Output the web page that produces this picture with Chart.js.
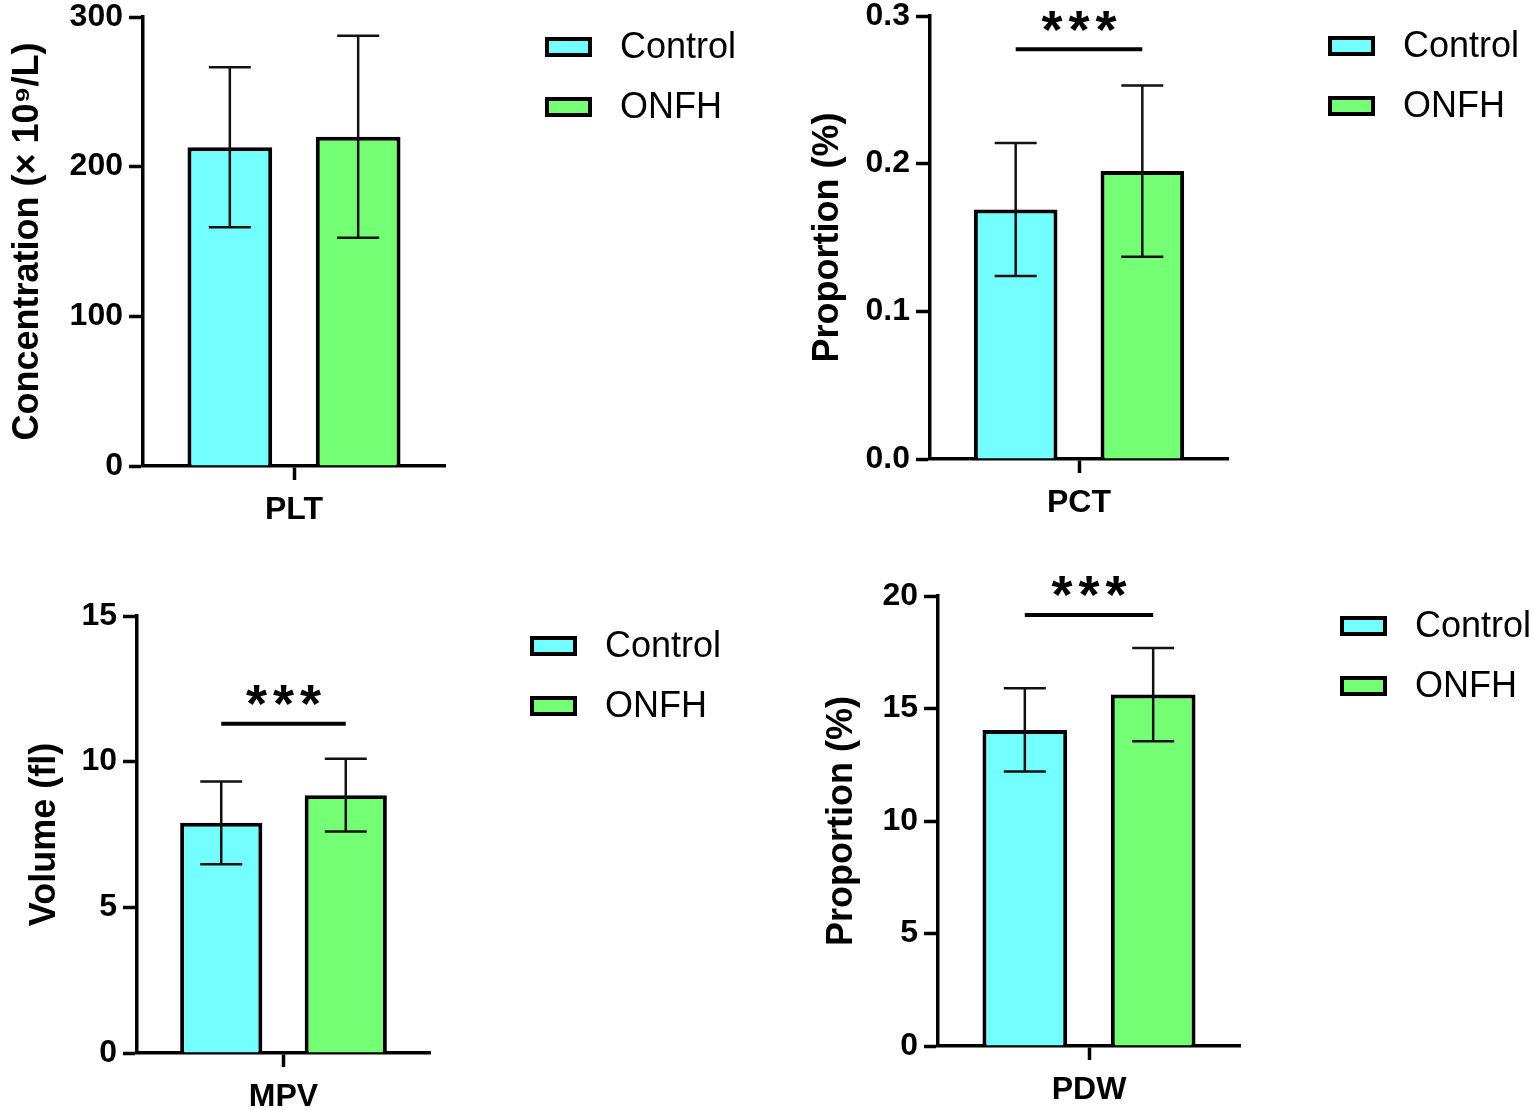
<!DOCTYPE html>
<html><head><meta charset="utf-8">
<script src="https://cdn.jsdelivr.net/npm/chart.js@4.4.1/dist/chart.umd.min.js"></script>
<style>
html,body{margin:0;padding:0;background:#fff;width:1534px;height:1110px;overflow:hidden;}
canvas{position:absolute;}
</style></head><body>
<canvas id="c1" width="780" height="545" style="left:0;top:0;width:780px;height:545px"></canvas>
<canvas id="c2" width="744" height="545" style="left:790px;top:0;width:744px;height:545px"></canvas>
<canvas id="c3" width="780" height="550" style="left:0;top:560px;width:780px;height:550px"></canvas>
<canvas id="c4" width="744" height="550" style="left:790px;top:560px;width:744px;height:550px"></canvas>
<script>
// ---- data ----
const groups = ['Control', 'ONFH'];
const groupColors = ['#73FFFF', '#74FF74'];

const pltLabel = ['PLT'];
const pltMean = [213, 220];
const pltSD = [53.5, 67.5];
const pltTicks = [0, 100, 200, 300];

const pctLabel = ['PCT'];
const pctMean = [0.169, 0.195];
const pctSD = [0.045, 0.058];
const pctTicks = [0, 0.1, 0.2, 0.3];
const pctSig = 0.2775;

const mpvLabel = ['MPV'];
const mpvMean = [7.9, 8.85];
const mpvSD = [1.42, 1.25];
const mpvTicks = [0, 5, 10, 15];
const mpvSig = 11.3;

const pdwLabel = ['PDW'];
const pdwMean = [14.05, 15.62];
const pdwSD = [1.85, 2.07];
const pdwTicks = [0, 5, 10, 15, 20];
const pdwSig = 19.16;

const sigText = '***';

// ---- rendering ----
const F = "'Liberation Sans', Arial, Helvetica, sans-serif";
Chart.defaults.font.family = F;
Chart.defaults.color = '#000';

const errorBars = {
  id: 'errorBars',
  afterDatasetsDraw(chart) {
    const ctx = chart.ctx, y = chart.scales.y;
    ctx.save();
    ctx.strokeStyle = '#111';
    ctx.lineWidth = 2.5;
    chart.data.datasets.forEach((ds, i) => {
      const el = chart.getDatasetMeta(i).data[0];
      const m = ds.data[0], sd = ds.sd[0];
      const yt = y.getPixelForValue(m + sd), yb = y.getPixelForValue(m - sd);
      const cw = 21;
      ctx.beginPath();
      ctx.moveTo(el.x, yt); ctx.lineTo(el.x, yb);
      ctx.moveTo(el.x - cw, yt); ctx.lineTo(el.x + cw, yt);
      ctx.moveTo(el.x - cw, yb); ctx.lineTo(el.x + cw, yb);
      ctx.stroke();
    });
    ctx.restore();
  }
};

const sigBracket = {
  id: 'sigBracket',
  afterDraw(chart, args, opts) {
    if (opts.value == null) return;
    const ctx = chart.ctx, y = chart.scales.y;
    const x0 = chart.getDatasetMeta(0).data[0].x;
    const x1 = chart.getDatasetMeta(1).data[0].x;
    const yy = y.getPixelForValue(opts.value);
    ctx.save();
    ctx.strokeStyle = '#000';
    ctx.lineWidth = 4;
    ctx.beginPath(); ctx.moveTo(x0, yy); ctx.lineTo(x1, yy); ctx.stroke();
    ctx.font = 'bold 54px ' + F;
    ctx.fillStyle = '#000';
    ctx.textAlign = 'center';
    ctx.textBaseline = 'alphabetic';
    const chars = opts.text.split('');
    const m = ctx.measureText(chars[0]);
    const target = yy - opts.gap;
    const by = target + (m.actualBoundingBoxAscent - m.actualBoundingBoxDescent) / 2;
    const cx = (x0 + x1) / 2;
    chars.forEach((c, k) => {
      ctx.fillText(c, cx + (k - (chars.length - 1) / 2) * opts.spacing, by);
    });
    ctx.restore();
  }
};

const sideLegend = {
  id: 'sideLegend',
  afterDraw(chart, args, opts) {
    const ctx = chart.ctx, a = chart.chartArea;
    ctx.save();
    chart.data.datasets.forEach((ds, i) => {
      const bx = a.right + opts.dx, cy = a.top + opts.dy + i * opts.gap;
      ctx.fillStyle = ds.backgroundColor;
      ctx.fillRect(bx, cy - 10, 47, 20);
      ctx.strokeStyle = '#000';
      ctx.lineWidth = 4;
      ctx.strokeRect(bx + 2, cy - 8, 43, 16);
      ctx.fillStyle = '#000';
      ctx.font = '36px ' + F;
      ctx.textBaseline = 'middle';
      ctx.textAlign = 'left';
      ctx.fillText(ds.label, bx + 75, cy + 1);
    });
    ctx.restore();
  }
};

function makePanel(id, W, H, area, cats, means, sds, ticks, decimals, yTitle, titlePad, sig) {
  const datasets = groups.map((g, i) => ({
    label: g,
    data: [means[i]],
    sd: [sds[i]],
    backgroundColor: groupColors[i],
    borderColor: '#000',
    borderWidth: 4,
    categoryPercentage: 0.85,
    barPercentage: 0.66
  }));
  new Chart(document.getElementById(id), {
    type: 'bar',
    data: { labels: cats, datasets },
    plugins: [errorBars, sigBracket, sideLegend],
    options: {
      responsive: false,
      animation: false,
      devicePixelRatio: 1,
      layout: { padding: { left: 0, top: area.T, right: W - area.R, bottom: 0 } },
      plugins: {
        legend: { display: false },
        tooltip: { enabled: false },
        sigBracket: { value: sig, text: sigText, gap: 28, spacing: 27 },
        sideLegend: { dx: 100, dy: 30, gap: 60 }
      },
      scales: {
        x: {
          offset: true,
          ticks: { color: '#000', font: { family: F, size: 32, weight: 'bold' }, padding: 11 },
          grid: { display: true, offset: false, drawOnChartArea: false, drawTicks: true, tickLength: 14, tickWidth: 3.5, tickColor: '#000' },
          border: { display: true, color: '#000', width: 3.5 },
          afterFit: s => { s.height = H - area.B; s.paddingLeft = 0; s.paddingRight = 0; }
        },
        y: {
          min: ticks[0], max: ticks[ticks.length - 1],
          afterBuildTicks: s => { s.ticks = ticks.map(v => ({ value: v })); },
          ticks: { color: '#000', font: { family: F, size: 32, weight: 'bold' }, padding: 6,
                   callback: v => Number(v).toFixed(decimals) },
          grid: { display: true, drawOnChartArea: false, drawTicks: true, tickLength: 14, tickWidth: 3.5, tickColor: '#000' },
          border: { display: true, color: '#000', width: 3.5 },
          title: { display: true, text: yTitle, color: '#000', font: { family: F, size: 36, weight: 'bold' }, padding: { top: titlePad, bottom: 0 } },
          afterFit: s => { s.width = area.L; s.paddingTop = 0; s.paddingBottom = 0; }
        }
      }
    }
  });
}

makePanel('c1', 780, 545, { L: 143, T: 17, R: 445, B: 466 }, pltLabel, pltMean, pltSD, pltTicks, 0,
  'Concentration (× 10⁹/L)', 6, null);
makePanel('c2', 744, 545, { L: 140, T: 16, R: 438, B: 459 }, pctLabel, pctMean, pctSD, pctTicks, 1,
  'Proportion (%)', 16, pctSig);
makePanel('c3', 780, 550, { L: 137, T: 56, R: 430, B: 493 }, mpvLabel, mpvMean, mpvSD, mpvTicks, 0,
  'Volume (fl)', 23, mpvSig);
makePanel('c4', 744, 550, { L: 148, T: 36, R: 450, B: 486 }, pdwLabel, pdwMean, pdwSD, pdwTicks, 0,
  'Proportion (%)', 30, pdwSig);
</script>
</body></html>
